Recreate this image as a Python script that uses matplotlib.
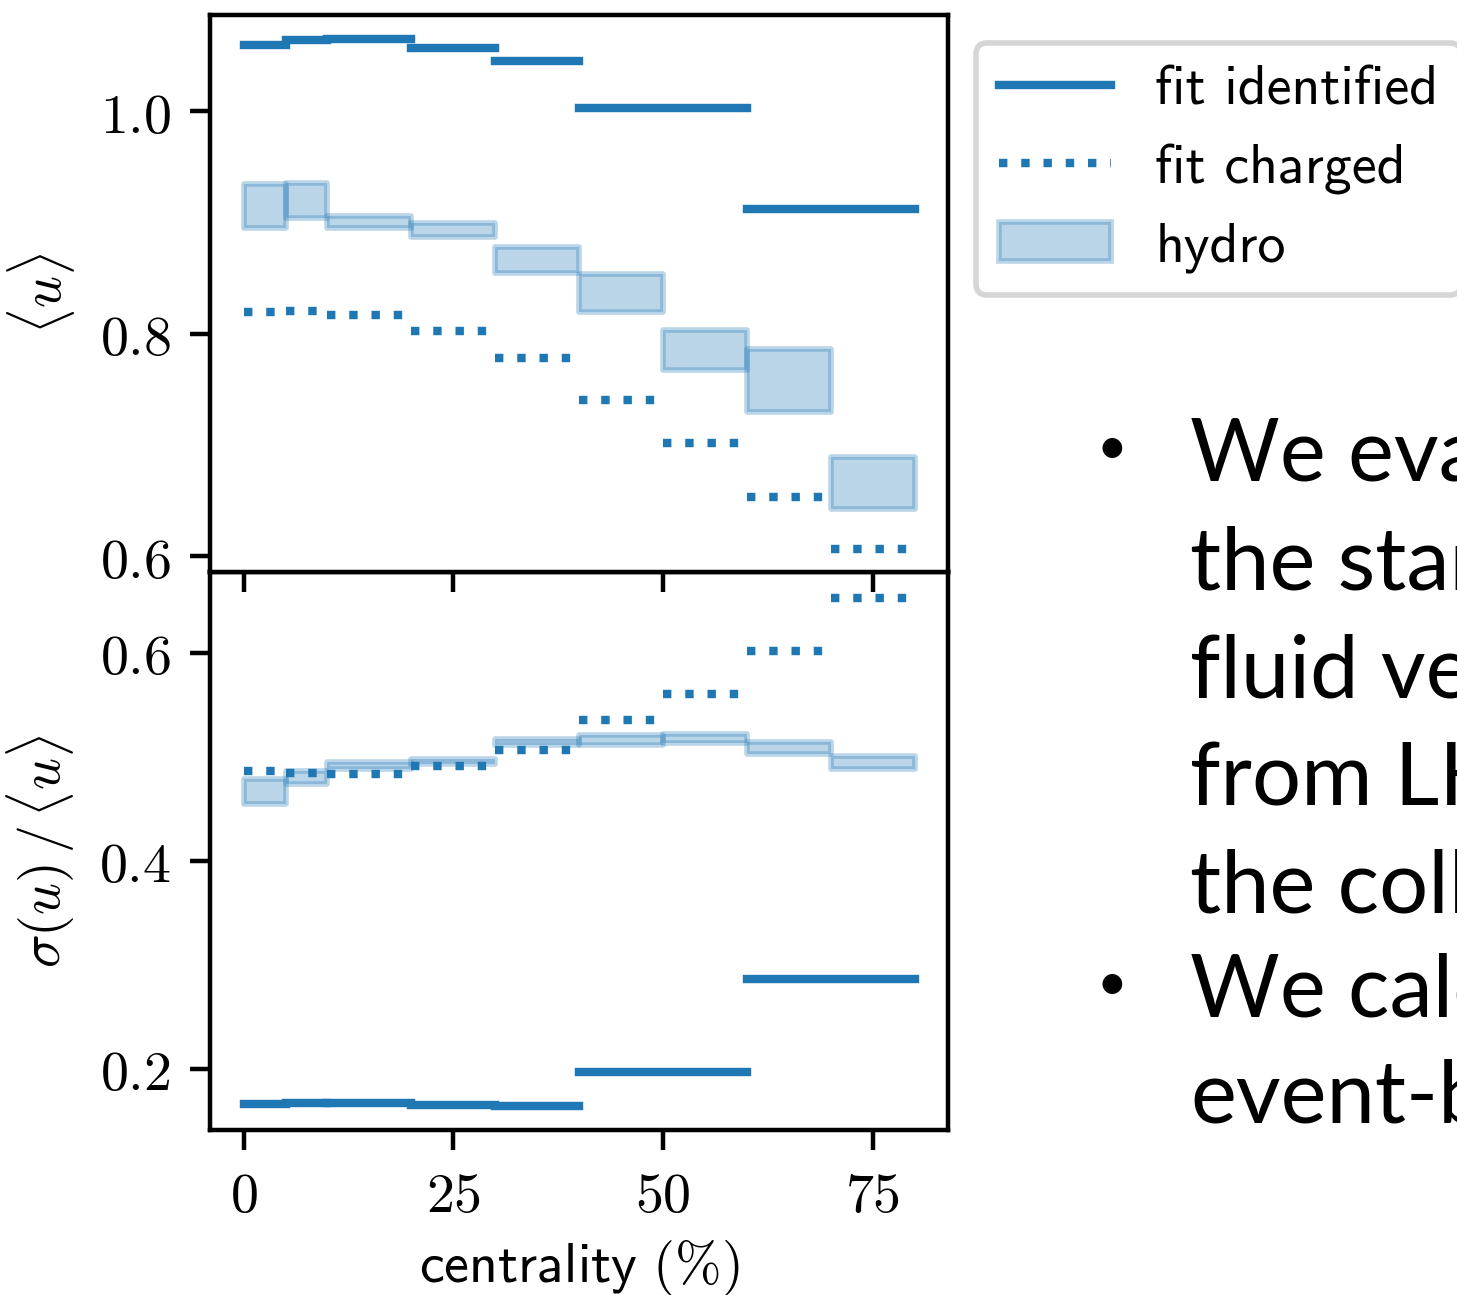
import matplotlib
matplotlib.use('Agg')
import matplotlib.pyplot as plt
from matplotlib.ticker import FuncFormatter

plt.rcParams['mathtext.fontset'] = 'cm'

# centrality bins (%)
edges_fine = [0, 5, 10, 20, 30, 40, 50, 60, 70, 80]
edges_ident = [0, 5, 10, 20, 30, 40, 60, 80]

# <u>
mean_ident = [1.060, 1.0645, 1.0648, 1.057, 1.0456, 1.0028, 0.912]
mean_charged = [0.820, 0.8207, 0.8173, 0.8026, 0.7779, 0.7408, 0.7017, 0.6536, 0.6068]
mean_hydro_lo = [0.895, 0.904, 0.895, 0.887, 0.855, 0.820, 0.767, 0.730, 0.642]
mean_hydro_hi = [0.935, 0.936, 0.906, 0.900, 0.878, 0.854, 0.803, 0.786, 0.689]

# sigma(u) / <u>
rel_ident = [0.1658, 0.1665, 0.1665, 0.1650, 0.1637, 0.197, 0.286]
rel_charged = [0.4867, 0.4846, 0.4839, 0.4911, 0.5065, 0.535, 0.5608, 0.6015, 0.653]
rel_hydro_lo = [0.455, 0.474, 0.488, 0.493, 0.511, 0.511, 0.513, 0.503, 0.488]
rel_hydro_hi = [0.479, 0.486, 0.495, 0.498, 0.517, 0.521, 0.522, 0.514, 0.501]

# slide text next to the figure
slide_lines = ['We evaluate', 'the standard', 'fluid velocity', 'from LHC data',
               'the collision', 'We calculate', 'event-by-event']
slide_bullets = [True, False, False, False, False, True, False]
slide_baselines = [480, 589, 697, 804, 912, 1016, 1122]

W, H = 1457, 1295
DPI = 403
fig = plt.figure(figsize=((W + 0.4) / DPI, (H + 0.4) / DPI), dpi=DPI)

ax1 = fig.add_axes([210 / W, 1 - 572 / H, 738 / W, 557 / H])
ax2 = fig.add_axes([210 / W, 1 - 1130 / H, 738 / W, 558 / H])
ax1.set_zorder(3)


def draw_panel(ax, ident, charged, lo, hi):
    for i, v in enumerate(ident):
        ax.plot([edges_ident[i], edges_ident[i + 1]], [v, v], color='C0', ls='-',
                label='fit identified' if i == 0 else None)
    for i, v in enumerate(charged):
        ax.plot([edges_fine[i], edges_fine[i + 1]], [v, v], color='C0', ls=':',
                label='fit charged' if i == 0 else None)
    for i in range(len(lo)):
        ax.fill_between([edges_fine[i], edges_fine[i + 1]], [lo[i], lo[i]], [hi[i], hi[i]],
                        color='C0', alpha=0.3, lw=1,
                        label='hydro' if i == 0 else None)


draw_panel(ax1, mean_ident, mean_charged, mean_hydro_lo, mean_hydro_hi)
draw_panel(ax2, rel_ident, rel_charged, rel_hydro_lo, rel_hydro_hi)

fmt1 = FuncFormatter(lambda v, p: '$%.1f$' % v)
fmtx = FuncFormatter(lambda v, p: '$%d$' % v)
for ax in (ax1, ax2):
    ax.set_xlim(-4, 84)
    ax.set_xticks([0, 25, 50, 75])
    ax.xaxis.set_major_formatter(fmtx)
    ax.yaxis.set_major_formatter(fmt1)

ax1.set_ylim(0.586, 1.087)
ax1.set_yticks([0.6, 0.8, 1.0])
ax1.tick_params(labelbottom=False)
ax2.set_ylim(0.141, 0.678)
ax2.set_yticks([0.2, 0.4, 0.6])

ax1.set_ylabel(r'$\langle u\rangle$')
ax2.set_ylabel(r'$\sigma(u)\,/\,\langle u\rangle$')
ax2.set_xlabel(r'$\mathsf{centrality}\ (\%)$', labelpad=2.5)
fig.align_ylabels([ax1, ax2])

ax1.legend(loc='upper left', bbox_to_anchor=(1, 1),
           prop={'family': 'cmss10', 'size': 10})

for text, bullet, yb in zip(slide_lines, slide_bullets, slide_baselines):
    fig.text(1190 / W, 1 - yb / H, text, family='Lato', fontsize=15.5,
             ha='left', va='baseline')
    if bullet:
        fig.text(1112 / W, 1 - (yb - 31) / H, '\u2022', family='Lato', fontsize=9.5,
                 ha='center', va='center')

fig.savefig('out.png', dpi=DPI)
